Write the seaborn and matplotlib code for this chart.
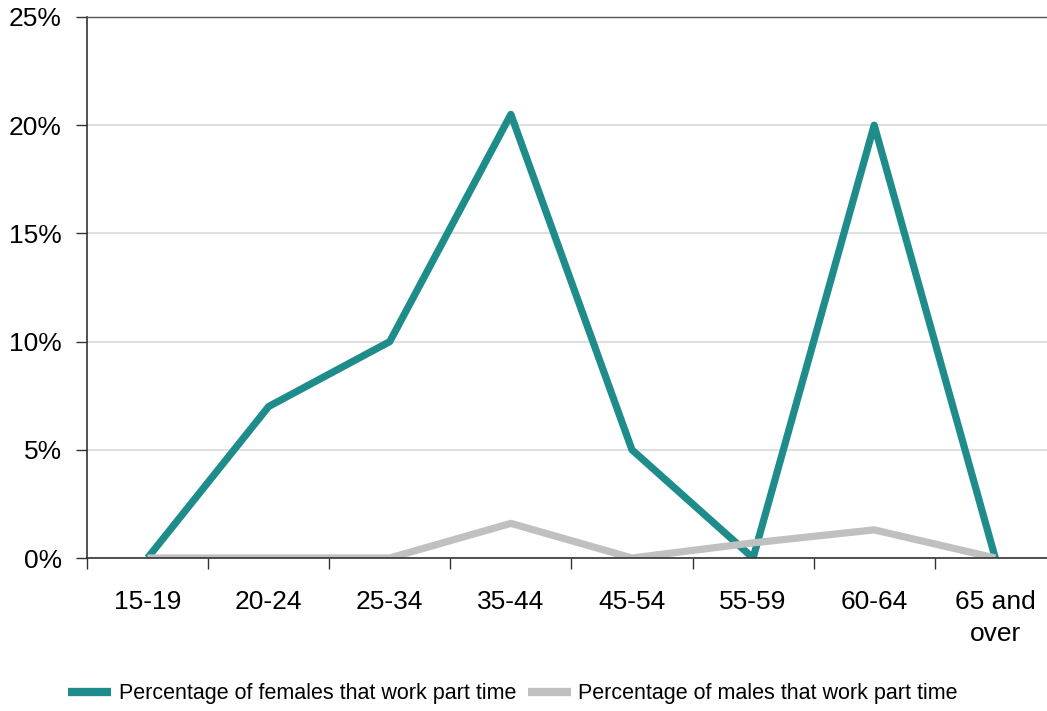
import numpy as np
import pandas as pd
import matplotlib
matplotlib.use("Agg")
import matplotlib.pyplot as plt
import seaborn as sns

age_groups = ["15-19", "20-24", "25-34", "35-44", "45-54", "55-59", "60-64", "65 and\nover"]
female_pct = [0.0, 7.0, 10.0, 20.5, 5.0, 0.0, 20.0, 0.0]
male_pct = [0.0, 0.0, 0.0, 1.6, 0.0, 0.7, 1.3, 0.0]
series_names = ["Percentage of females that work part time",
                "Percentage of males that work part time"]
y_ticks = [0, 5, 10, 15, 20, 25]

sns.set_theme(style="white")
plt.rcParams["font.family"] = ["Liberation Sans", "DejaVu Sans"]

rows = []
for name, vals in zip(series_names, [female_pct, male_pct]):
    for i, v in enumerate(vals):
        rows.append({"pos": i, "value": v, "series": name})
df = pd.DataFrame(rows)

fig = plt.figure(figsize=(10.47, 7.11), dpi=100)
ax = fig.add_axes([87 / 1047, 1 - 558 / 711, 1 - 87 / 1047, (558 - 17) / 711])

palette = {series_names[0]: "#1E8C8A", series_names[1]: "#C0C0C0"}
sns.lineplot(data=df, x="pos", y="value", hue="series", hue_order=series_names,
             palette=palette, linewidth=5.2, ax=ax, legend=False,
             solid_joinstyle="round", solid_capstyle="butt")

ax.set_yticks(y_ticks)
ax.set_yticklabels([f"{t}%" for t in y_ticks], fontsize=19, color="black")
ax.yaxis.grid(True, color="#D9D9D9", linewidth=1.2)
ax.set_axisbelow(True)

ax.set_xticks(range(len(age_groups)))
ax.set_xticklabels(age_groups, fontsize=19, color="black", linespacing=1.45)
ax.set_xticks(np.arange(-0.5, len(age_groups), 1.0), minor=True)
ax.set_xlim(-0.5, 7.427)
ax.set_ylim(0, 25)
ax.tick_params(axis="x", which="major", length=0, pad=23)
ax.tick_params(axis="x", which="minor", length=8, width=1, color="#333333", direction="out", bottom=True)
ax.tick_params(axis="y", which="major", length=8, width=1, color="#333333", direction="out", left=True, pad=10)
ax.set_xlabel("")
ax.set_ylabel("")

for side in ["left", "bottom"]:
    ax.spines[side].set_visible(True)
    ax.spines[side].set_color("#333333")
    ax.spines[side].set_linewidth(1.2)
ax.spines["top"].set_visible(True)
ax.spines["top"].set_color("#555555")
ax.spines["top"].set_linewidth(1.0)
ax.spines["right"].set_visible(False)

handles = [plt.Line2D([], [], color=palette[n], linewidth=6, solid_capstyle="butt") for n in series_names]
fig.legend(handles, series_names, loc="center", bbox_to_anchor=(0.49, 1 - 694 / 711),
           ncol=2, frameon=False, fontsize=15.5, handlelength=2.0, handletextpad=0.35,
           columnspacing=0.55, labelcolor="black")

fig.savefig("out.png", dpi=100)
